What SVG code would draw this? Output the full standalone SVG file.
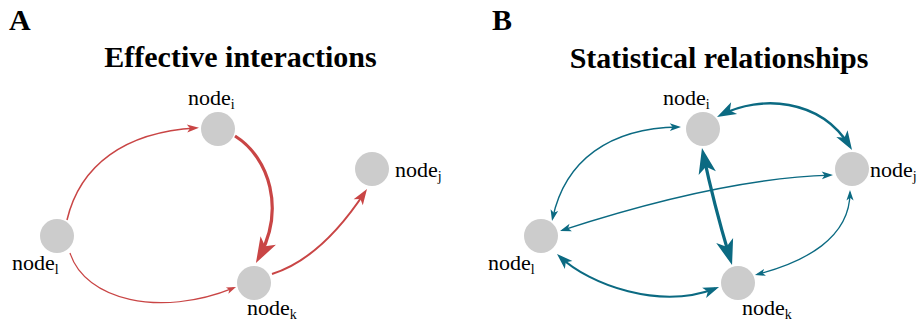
<svg xmlns="http://www.w3.org/2000/svg" width="918" height="323" viewBox="0 0 918 323">
  <style>
    .node { fill: #cccccc; }
    .red { fill: none; stroke: #c94545; }
    .teal { fill: none; stroke: #0b6a82; }
  </style>
  <defs>
    <!-- notched arrowheads, sized in stroke-width units -->
    <marker id="arrRed" markerUnits="strokeWidth" markerWidth="9" markerHeight="6" refX="6" refY="2.75" orient="auto-start-reverse" overflow="visible">
      <path d="M0,0 L8,2.75 L0,5.5 L2,2.75 Z" fill="#c94545"/>
    </marker>
    <marker id="arrTeal" markerUnits="strokeWidth" markerWidth="9" markerHeight="6" refX="6" refY="2.75" orient="auto-start-reverse" overflow="visible">
      <path d="M0,0 L8,2.75 L0,5.5 L2,2.75 Z" fill="#0b6a82"/>
    </marker>
  </defs>

  <!-- panel headings -->
  <g font-family="'Liberation Serif', serif" font-weight="bold" font-size="30" fill="#000">
    <text x="9" y="30">A</text>
    <text x="240.5" y="67" text-anchor="middle">Effective interactions</text>
    <text x="492" y="30">B</text>
    <text x="719" y="68" text-anchor="middle">Statistical relationships</text>
  </g>

  <!-- connectors -->
  <g id="connectors">
    <!-- A: effective interactions -->
    <path class="red" stroke-width="1.5" marker-end="url(#arrRed)" d="M67,220 C80,165 125,132 196,128"/>
    <path class="red" stroke-width="3.2" marker-end="url(#arrRed)" d="M235,136 C270,158 285,210 259,257.4"/>
    <path class="red" stroke-width="1.2" marker-end="url(#arrRed)" d="M70,253 C85,300 160,318 233.8,287.9"/>
    <path class="red" stroke-width="2" marker-end="url(#arrRed)" d="M272,274 C310,262 340,230 364.8,192.3"/>

    <!-- B: statistical relationships -->
    <path class="teal" stroke-width="2.4" marker-start="url(#arrTeal)" marker-end="url(#arrTeal)" d="M721.3,114.8 C760,95 820,98 849.5,145.9"/>
    <path class="teal" stroke-width="1.4" marker-start="url(#arrTeal)" marker-end="url(#arrTeal)" d="M552.6,218.3 C565,160 610,128 678.2,127"/>
    <path class="teal" stroke-width="1.4" marker-start="url(#arrTeal)" marker-end="url(#arrTeal)" d="M562.7,230.1 C640,205 740,178 830.2,175.1"/>
    <path class="teal" stroke-width="3.2" marker-start="url(#arrTeal)" marker-end="url(#arrTeal)" d="M703.3,154.3 Q714,205 730.2,258.9"/>
    <path class="teal" stroke-width="2" marker-start="url(#arrTeal)" marker-end="url(#arrTeal)" d="M559.9,256.7 C590,285 660,310 715.3,288.5"/>
    <path class="teal" stroke-width="1.3" marker-start="url(#arrTeal)" marker-end="url(#arrTeal)" d="M757.5,274.3 C805,262 850,238 850,192.6"/>
  </g>

  <!-- A nodes -->
  <g id="A-node-i">
    <circle class="node" cx="218" cy="129" r="17"/>
    <text font-family="'Liberation Serif', serif" font-size="22" x="188" y="105">node<tspan font-size="14" dy="4">i</tspan></text>
  </g>
  <g id="A-node-j">
    <circle class="node" cx="372" cy="169" r="17"/>
    <text font-family="'Liberation Serif', serif" font-size="22" x="395" y="177">node<tspan font-size="14" dy="4">j</tspan></text>
  </g>
  <g id="A-node-l">
    <circle class="node" cx="57" cy="236" r="17"/>
    <text font-family="'Liberation Serif', serif" font-size="22" x="12" y="270">node<tspan font-size="14" dy="4">l</tspan></text>
  </g>
  <g id="A-node-k">
    <circle class="node" cx="254" cy="283" r="17"/>
    <text font-family="'Liberation Serif', serif" font-size="22" x="247" y="315">node<tspan font-size="14" dy="4">k</tspan></text>
  </g>

  <!-- B nodes -->
  <g id="B-node-i">
    <circle class="node" cx="703" cy="129" r="17"/>
    <text font-family="'Liberation Serif', serif" font-size="22" x="663" y="105">node<tspan font-size="14" dy="4">i</tspan></text>
  </g>
  <g id="B-node-j">
    <circle class="node" cx="852" cy="169" r="17"/>
    <text font-family="'Liberation Serif', serif" font-size="22" x="870" y="177">node<tspan font-size="14" dy="4">j</tspan></text>
  </g>
  <g id="B-node-l">
    <circle class="node" cx="541" cy="236" r="17"/>
    <text font-family="'Liberation Serif', serif" font-size="22" x="488" y="270">node<tspan font-size="14" dy="4">l</tspan></text>
  </g>
  <g id="B-node-k">
    <circle class="node" cx="738" cy="283" r="17"/>
    <text font-family="'Liberation Serif', serif" font-size="22" x="742" y="315">node<tspan font-size="14" dy="4">k</tspan></text>
  </g>
</svg>
